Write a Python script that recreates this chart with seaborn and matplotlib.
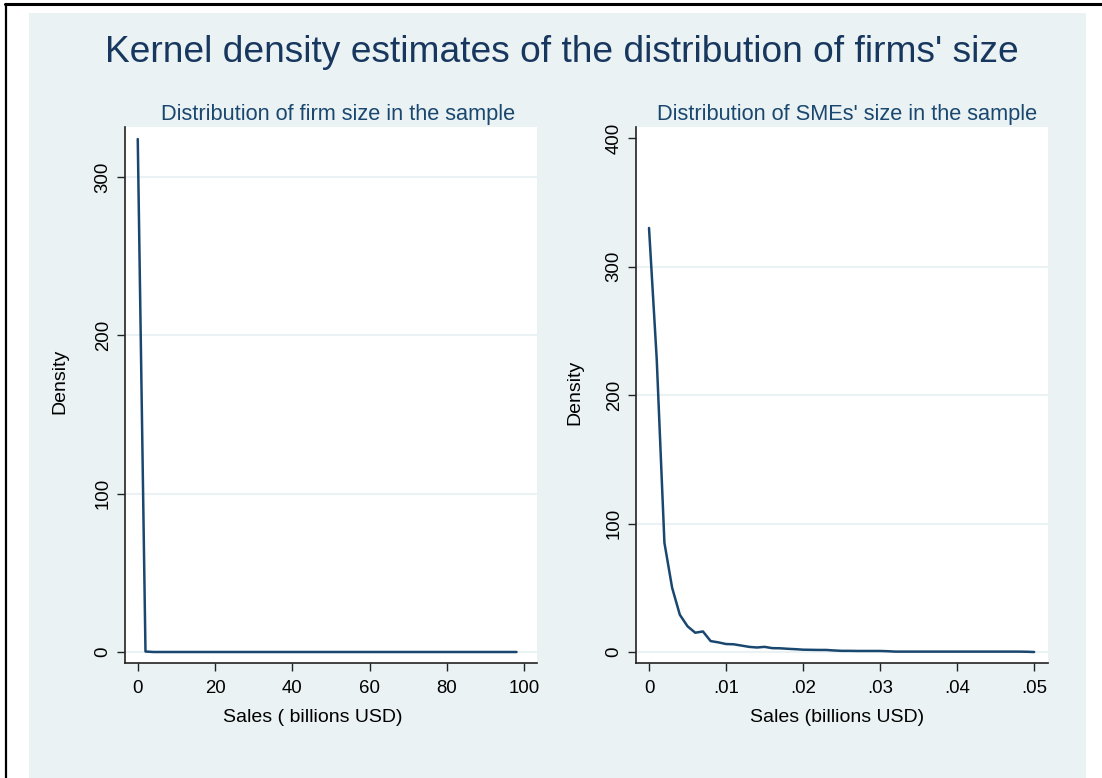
import numpy as np
import pandas as pd
import seaborn as sns
import matplotlib
matplotlib.use("Agg")
import matplotlib.pyplot as plt
from matplotlib.patches import Rectangle
from matplotlib.lines import Line2D

# Kernel density evaluated on a grid of firm sales (billions USD)
all_sales = [0, 2, 4, 6, 8, 10, 12, 14, 16, 18, 20, 22, 24, 26, 28, 30, 32, 34,
             36, 38, 40, 42, 44, 46, 48, 50, 52, 54, 56, 58, 60, 62, 64, 66, 68,
             70, 72, 74, 76, 78, 80, 82, 84, 86, 88, 90, 92, 94, 96, 98]
all_density = [324, 0.3, 0, 0, 0, 0, 0, 0, 0, 0, 0, 0, 0, 0, 0, 0, 0, 0,
               0, 0, 0, 0, 0, 0, 0, 0, 0, 0, 0, 0, 0, 0, 0, 0, 0,
               0, 0, 0, 0, 0, 0, 0, 0, 0, 0, 0, 0, 0, 0, 0]

# Kernel density for small and medium enterprises only
sme_sales = [0.000, 0.001, 0.002, 0.003, 0.004, 0.005, 0.006, 0.007, 0.008,
             0.009, 0.010, 0.011, 0.012, 0.013, 0.014, 0.015, 0.016, 0.017,
             0.018, 0.019, 0.020, 0.021, 0.022, 0.023, 0.024, 0.025, 0.026,
             0.027, 0.028, 0.029, 0.030, 0.031, 0.032, 0.033, 0.034, 0.035,
             0.036, 0.037, 0.038, 0.039, 0.040, 0.041, 0.042, 0.043, 0.044,
             0.045, 0.046, 0.047, 0.048, 0.049, 0.050]
sme_density = [330, 228, 85, 50, 29, 20, 15, 16, 8.5, 7.5, 6.2, 6.0, 5.0, 4.0,
               3.5, 4.0, 3.0, 2.9, 2.5, 2.2, 1.8, 1.7, 1.6, 1.6, 1.2, 0.9, 0.9,
               0.8, 0.8, 0.8, 0.8, 0.6, 0.3, 0.3, 0.3, 0.3, 0.3, 0.3, 0.3, 0.3,
               0.3, 0.3, 0.3, 0.3, 0.3, 0.3, 0.3, 0.3, 0.3, 0.2, 0.0]

left_xticks = [0, 20, 40, 60, 80, 100]
left_xticklabels = ["0", "20", "40", "60", "80", "100"]
left_yticks = [0, 100, 200, 300]
right_xticks = [0, 0.01, 0.02, 0.03, 0.04, 0.05]
right_xticklabels = ["0", ".01", ".02", ".03", ".04", ".05"]
right_yticks = [0, 100, 200, 300, 400]

main_title = "Kernel density estimates of the distribution of firms' size"
left_title = "Distribution of firm size in the sample"
right_title = "Distribution of SMEs' size in the sample"
left_xlabel = "Sales ( billions USD)"
right_xlabel = "Sales (billions USD)"
ylabel = "Density"

sns.set_theme(style="white")
plt.rcParams["font.family"] = ["Liberation Sans", "DejaVu Sans"]

BG = "#EAF2F3"
NAVY = "#1A476F"
TITLE = "#17375E"
AXIS = "#222222"

W, H = 1102, 778
fig = plt.figure(figsize=(W / 100, H / 100), dpi=100)
fig.patch.set_facecolor("white")

# Graph region background and frame lines
fig.add_artist(Rectangle((29 / W, 0), (1086 - 29) / W, 1 - 13 / H,
                         transform=fig.transFigure, facecolor=BG,
                         edgecolor="none", zorder=0))
fig.add_artist(Line2D([5 / W, 1], [1 - 3.5 / H, 1 - 3.5 / H],
                      transform=fig.transFigure, color="black", lw=2.2))
fig.add_artist(Line2D([5.5 / W, 5.5 / W], [0, 1 - 3.5 / H],
                      transform=fig.transFigure, color="black", lw=1.6))

AX_X0 = {"left": 125, "right": 636}
AX_W, AX_TOP, AX_BOT = 412, 127, 663


def px_axes(x0):
    return fig.add_axes([x0 / W, 1 - AX_BOT / H, AX_W / W,
                         (AX_BOT - AX_TOP) / H])


ax1 = px_axes(AX_X0["left"])
ax2 = px_axes(AX_X0["right"])

df_all = pd.DataFrame({"sales": all_sales, "density": all_density})
df_sme = pd.DataFrame({"sales": sme_sales, "density": sme_density})

sns.lineplot(data=df_all, x="sales", y="density", ax=ax1, color=NAVY,
             lw=1.8, zorder=3)
sns.lineplot(data=df_sme, x="sales", y="density", ax=ax2, color=NAVY,
             lw=1.8, zorder=3)

# (axes, xlim, ylim, xticks, xticklabels, yticks, title, xlabel,
#  title centre x, xlabel centre x, ylabel centre (x, y)) in pixels
panels = [
    (ax1, (-3.3, 103.3), (-6.95, 331.6), left_xticks, left_xticklabels,
     left_yticks, left_title, left_xlabel, 338, 313, (60, 381)),
    (ax2, (-0.00169, 0.0518), (-8.56, 408.6), right_xticks, right_xticklabels,
     right_yticks, right_title, right_xlabel, 847, 837, (575, 392)),
]

for (ax, xl, yl, xt, xtl, yt, ttl, xlab, tx, lx, (yx, yy)) in panels:
    x0 = ax.get_position().x0 * W
    hgt = AX_BOT - AX_TOP
    ax.set_facecolor("white")
    ax.set_xlim(*xl)
    ax.set_ylim(*yl)
    ax.set_xticks(xt)
    ax.set_xticklabels(xtl)
    ax.set_yticks(yt)
    ax.set_yticklabels([str(v) for v in yt], rotation=90, va="center")
    for v in yt:
        if v < yl[1] - 15:
            ax.axhline(v, color=BG, lw=1.5, zorder=1)
    ax.grid(False)
    for side in ("top", "right"):
        ax.spines[side].set_visible(False)
    for side in ("left", "bottom"):
        ax.spines[side].set_color(AXIS)
        ax.spines[side].set_linewidth(1.2)
    ax.tick_params(axis="both", which="major", direction="out", length=5.6,
                   width=1.0, color=AXIS, labelsize=13.4,
                   labelcolor="black", pad=4, left=True, bottom=True)
    ax.tick_params(axis="x", pad=6.5)
    ax.set_title(ttl, color=NAVY, fontsize=15.7, pad=5,
                 x=(tx - x0) / AX_W)
    ax.set_xlabel(xlab, fontsize=14, color="black", va="center")
    ax.xaxis.set_label_coords((lx - x0) / AX_W, (AX_BOT - 718) / hgt)
    ax.set_ylabel(ylabel, fontsize=14, color="black", va="center",
                  ha="center")
    ax.yaxis.set_label_coords((yx - x0) / AX_W, (AX_BOT - yy) / hgt)

fig.text(562 / W, 1 - 53 / H, main_title, ha="center", va="center",
         fontsize=26.7, color=TITLE)

fig.savefig("out.png", dpi=100)
